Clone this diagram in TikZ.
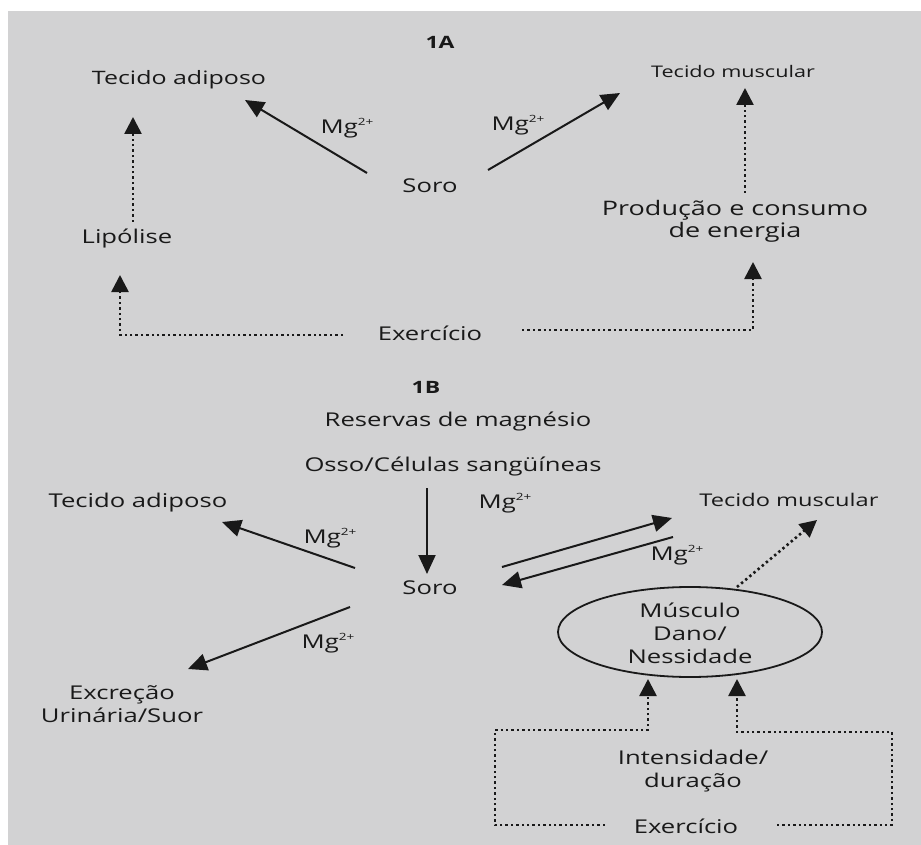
\documentclass[tikz,border=0pt]{standalone}
\usepackage{fontspec}
\setmainfont{Open Sans}[FakeStretch=1.35]
\usetikzlibrary{arrows.meta,shapes.geometric}
\definecolor{paper}{RGB}{210,210,211}
\definecolor{ink}{RGB}{25,25,25}
\newcommand\mgion{Mg\raisebox{0.75ex}{\fontsize{10}{10}\selectfont 2+}}
\tikzset{
  lbl/.style={text=ink,inner sep=1pt,align=center},
  big/.style={lbl,font=\fontsize{19}{23}\selectfont},
  small/.style={lbl,font=\fontsize{16}{21}\selectfont},
  mg/.style={lbl,font=\fontsize{19}{20}\selectfont},
  head/.style={lbl,font=\bfseries\fontsize{17}{20}\selectfont},
  arr/.style={draw=ink,line width=2pt,-{Triangle[length=19pt,width=17pt]}},
  dotarr/.style={draw=ink,line width=2.6pt,dash pattern=on 2.4pt off 3pt,-{Triangle[length=17pt,width=17pt]}},
}
\begin{document}
\begin{tikzpicture}[x=1pt,y=-1pt]
\fill[white] (0,0) rectangle (921,845);
\fill[paper] (8,11) rectangle (921,845);
\useasboundingbox (0,0) rectangle (921,845);
% ---------- 1A ----------
\node[head] (h1A) at (440,42) {1A};
\node[small,font=\fontsize{18.5}{21}\selectfont] (tadA) at (179,80) {Tecido adiposo};
\node[small] (tmusA) at (733,72) {Tecido muscular};
\node[big] (soroA) at (430,186) {Soro};
\node[big] (lipo) at (127,239) {Lipólise};
\node[big,font=\fontsize{20}{22}\selectfont] (prod) at (735,221) {Produção e consumo\\de energia};
\node[big] (exA) at (430,333) {Exercício};
\node[mg] (mgA1) at (347,128) {\mgion};
\node[mg] (mgA2) at (518,125) {\mgion};
\coordinate (a1s) at (367,173); \coordinate (a1e) at (245,100);
\coordinate (a2s) at (488,170); \coordinate (a2e) at (620,93);
\draw[arr] (a1s) -- (a1e);
\draw[arr] (a2s) -- (a2e);
\coordinate (l1s) at (133,222); \coordinate (l1e) at (133,117);
\draw[dotarr] (l1s) -- (l1e);
\coordinate (p1s) at (745,193); \coordinate (p1e) at (745,88);
\draw[dotarr] (p1s) -- (p1e);
\coordinate (exAl) at (343,335); \coordinate (exAlc) at (120,335); \coordinate (exAlt) at (120,275);
\draw[dotarr] (exAl) -- (exAlc) -- (exAlt);
\coordinate (exAr) at (522,330); \coordinate (exArc) at (753,330); \coordinate (exArt) at (753,262);
\draw[dotarr] (exAr) -- (exArc) -- (exArt);
% ---------- 1B ----------
\node[head] (h1B) at (426,387) {1B};
\node[big] (reserv) at (458,422) {Reservas de magnésio};
\node[big] (osso) at (453,467) {Osso/Células sangüíneas};
\node[big] (tadB) at (138,503) {Tecido adiposo};
\node[big,font=\fontsize{17.5}{21}\selectfont] (tmusB) at (789,500) {Tecido muscular};
\node[big] (soroB) at (430,588) {Soro};
\node[big] (excr) at (122,704) {Excreção\\Urinária/Suor};
\node[mg] (mgB1) at (505,503) {\mgion};
\node[mg] (mgB2) at (330,538) {\mgion};
\node[mg] (mgB3) at (677,555) {\mgion};
\node[mg] (mgB4) at (328,643) {\mgion};
\node[ellipse,draw=ink,line width=1.8pt,minimum width=264pt,minimum height=90pt,inner sep=0pt] (musc) at (690,632) {};
\node[big] (musct) at (690,633) {Músculo\\Dano/\\Nessidade};
\node[big] (intens) at (693,771) {Intensidade/\\duração};
\node[big] (exB) at (686,826) {Exercício};
\coordinate (b0s) at (427,488); \coordinate (b0e) at (427,574);
\draw[arr] (b0s) -- (b0e);
\coordinate (b1s) at (355,568); \coordinate (b1e) at (222,522);
\draw[arr] (b1s) -- (b1e);
\coordinate (b2s) at (502,567); \coordinate (b2e) at (672,518);
\draw[arr] (b2s) -- (b2e);
\coordinate (b3s) at (673,537); \coordinate (b3e) at (502,585);
\draw[arr] (b3s) -- (b3e);
\coordinate (b4s) at (350,607); \coordinate (b4e) at (188,669);
\draw[arr] (b4s) -- (b4e);
\coordinate (b5s) at (737,587); \coordinate (b5e) at (817,520);
\draw[dotarr] (b5s) -- (b5e);
\coordinate (bxl1) at (605,825); \coordinate (bxl2) at (495,825); \coordinate (bxl3) at (495,730); \coordinate (bxl4) at (648,730); \coordinate (bxl5) at (648,679);
\draw[dotarr] (bxl1) -- (bxl2) -- (bxl3) -- (bxl4) -- (bxl5);
\coordinate (bxr1) at (777,825); \coordinate (bxr2) at (892,825); \coordinate (bxr3) at (892,732); \coordinate (bxr4) at (737,732); \coordinate (bxr5) at (737,679);
\draw[dotarr] (bxr1) -- (bxr2) -- (bxr3) -- (bxr4) -- (bxr5);
\end{tikzpicture}
\end{document}
